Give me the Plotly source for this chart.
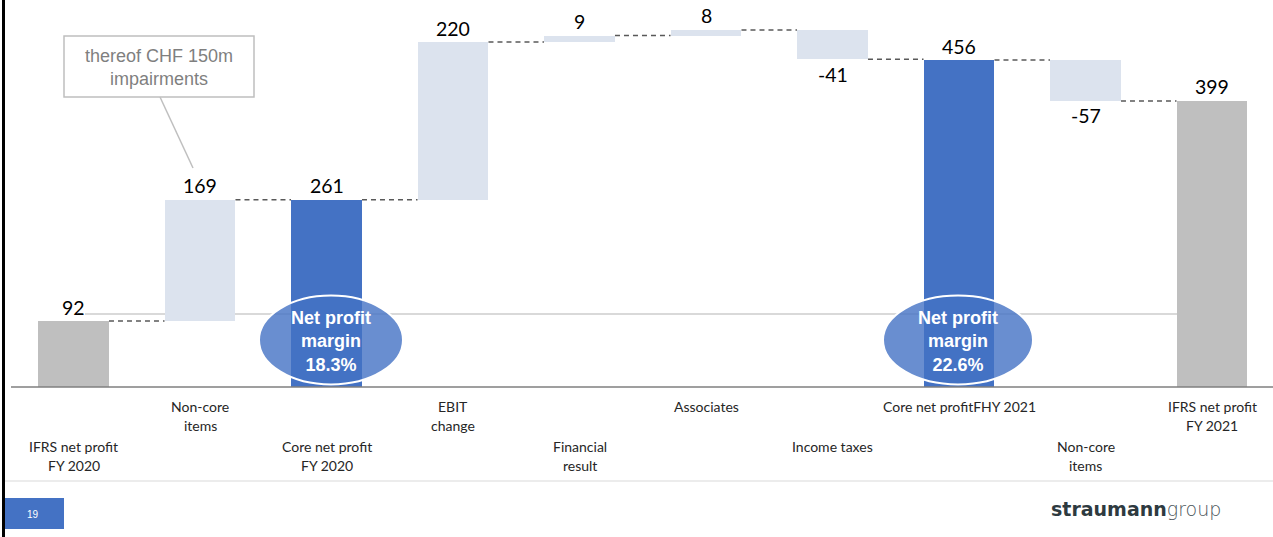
import plotly.graph_objects as go

# ---- data -------------------------------------------------------------
categories = [
    "IFRS net profit<br>FY 2020",
    "Non-core<br>items",
    "Core net profit<br>FY 2020",
    "EBIT<br>change",
    "Financial<br>result",
    "Associates",
    "Income taxes",
    "Core net profitFHY 2021",
    "Non-core<br>items",
    "IFRS net profit<br>FY 2021",
]
values = [92, 169, 261, 220, 9, 8, -41, 456, -57, 399]
measures = ["total", "relative", "total", "relative", "relative",
            "relative", "relative", "total", "relative", "total"]
bar_kind = ["ifrs", "step", "core", "step", "step",
            "step", "step", "core", "step", "ifrs"]
margin_labels = {2: "18.3%", 7: "22.6%"}
callout_text = "thereof CHF 150m<br>impairments"
page_number = "19"

# ---- page geometry helpers (pixel -> paper) ---------------------------
W, H = 1273, 537
AXIS_BOTTOM_PX = 387


def px(x):
    return x / W


def py(y):
    return 1 - y / H


colors = {"ifrs": "#BFBFBF", "step": "#DCE3EE", "core": "#4472C4"}

# ---- waterfall geometry -----------------------------------------------
bases, heights, ends = [], [], []
running = 0
for v, m in zip(values, measures):
    if m == "total":
        bases.append(0)
        heights.append(v)
        running = v
    else:
        bases.append(running)
        heights.append(v)
        running += v
    ends.append(running)

xs = list(range(len(values)))
BAR_W = 0.561

fig = go.Figure()
fig.add_trace(go.Bar(
    x=xs, y=heights, base=bases, width=BAR_W,
    marker=dict(color=[colors[k] for k in bar_kind], line=dict(width=0)),
    hoverinfo="skip", showlegend=False,
))

shapes = []
annotations = []

# dashed connectors between consecutive bars
for i in range(len(values) - 1):
    shapes.append(dict(
        type="line", xref="x", yref="y",
        x0=xs[i] + BAR_W / 2, x1=xs[i + 1] - BAR_W / 2,
        y0=ends[i], y1=ends[i],
        line=dict(color="#595959", width=1.5, dash="5px,4px"),
    ))

# value labels
for i, v in enumerate(values):
    top = max(bases[i], bases[i] + heights[i])
    bottom = min(bases[i], bases[i] + heights[i])
    if v < 0:
        yv, shift = bottom, -15
    else:
        yv, shift = top, 14
    annotations.append(dict(
        x=xs[i], y=yv, xref="x", yref="y", text=str(v), showarrow=False,
        yshift=shift, xanchor="center", yanchor="middle",
        font=dict(family="Lato", size=19.5, color="#000000"),
    ))

# staggered category labels below the axis
row_top = {1: 406, 2: 446}
rows = [2, 1, 2, 1, 2, 1, 2, 1, 2, 1]
for i, cat in enumerate(categories):
    for j, line in enumerate(cat.split("<br>")):
        annotations.append(dict(
            x=xs[i], xref="x", y=py(row_top[rows[i]] + 19 * j), yref="paper",
            text=line, showarrow=False, xanchor="center", yanchor="middle",
            font=dict(family="Lato", size=14, color="#262626"),
        ))

# light horizontal reference line (behind bars)
shapes.append(dict(
    type="line", xref="paper", yref="paper", layer="below",
    x0=px(85), x1=px(1177), y0=py(314), y1=py(314),
    line=dict(color="#D9D9D9", width=2),
))

# category axis line
shapes.append(dict(
    type="line", xref="paper", yref="paper",
    x0=px(11), x1=px(1273), y0=py(AXIS_BOTTOM_PX), y1=py(AXIS_BOTTOM_PX),
    line=dict(color="#7F7F7F", width=1.5),
))

# net profit margin ellipses
ellipse_geo = {2: (331, 340, 144, 89), 7: (958, 340, 150, 89)}
for i, txt in margin_labels.items():
    cx, cy, ew, eh = ellipse_geo[i]
    shapes.append(dict(
        type="circle", xref="paper", yref="paper",
        x0=px(cx - ew / 2), x1=px(cx + ew / 2),
        y0=py(cy + eh / 2), y1=py(cy - eh / 2),
        fillcolor="rgba(68,114,196,0.8)",
        line=dict(color="#FFFFFF", width=2),
    ))
    annotations.append(dict(
        x=px(cx), y=py(cy + 1), xref="paper", yref="paper",
        text="Net profit<br>margin<br>" + txt, showarrow=False,
        xanchor="center", yanchor="middle",
        font=dict(family="Arial, Liberation Sans", size=18, color="#FFFFFF",
                  weight="bold"),
    ))

# impairment callout
shapes.append(dict(
    type="rect", xref="paper", yref="paper",
    x0=px(64), x1=px(254), y0=py(97), y1=py(36),
    line=dict(color="#BFBFBF", width=1.5), fillcolor="#FFFFFF",
))
shapes.append(dict(
    type="line", xref="paper", yref="paper",
    x0=px(160), x1=px(193), y0=py(97), y1=py(168),
    line=dict(color="#BFBFBF", width=1.5),
))
annotations.append(dict(
    x=px(159), y=py(67.5), xref="paper", yref="paper", text=callout_text,
    showarrow=False, xanchor="center", yanchor="middle",
    font=dict(family="Arial, Liberation Sans", size=18, color="#7F7F7F"),
))

# page frame: left rule, footer separator, page number tab
shapes.append(dict(
    type="rect", xref="paper", yref="paper",
    x0=px(2), x1=px(5), y0=0, y1=1,
    fillcolor="#000000", line=dict(width=0),
))
shapes.append(dict(
    type="line", xref="paper", yref="paper",
    x0=px(5), x1=1, y0=py(481), y1=py(481),
    line=dict(color="#E6E6E6", width=1.5),
))
shapes.append(dict(
    type="rect", xref="paper", yref="paper",
    x0=px(5), x1=px(64), y0=py(529), y1=py(498),
    fillcolor="#4472C4", line=dict(width=0),
))
annotations.append(dict(
    x=px(33), y=py(514), xref="paper", yref="paper", text=page_number,
    showarrow=False, xanchor="center", yanchor="middle",
    font=dict(family="Arial, Liberation Sans", size=10, color="#FFFFFF"),
))

# company wordmark: heavy "straumann" followed directly by light "group"
wordmark = ('<span style="font-weight:900;color:#2E3A40">straumann</span>'
            '<span style="font-weight:200;color:#4A5459">group</span>')
annotations.append(dict(
    x=px(1136), y=py(509), xref="paper", yref="paper", text=wordmark,
    showarrow=False, xanchor="center", yanchor="middle",
    font=dict(family="DejaVu Sans", size=19, color="#2E3A40"),
))

x_left = -73.5 / 126.5
x_right = (W - 73.5) / 126.5
y_top = AXIS_BOTTOM_PX / (327 / 456)

fig.update_layout(
    width=W, height=H,
    margin=dict(l=0, r=0, t=0, b=0),
    paper_bgcolor="#FFFFFF", plot_bgcolor="#FFFFFF",
    xaxis=dict(range=[x_left, x_right], domain=[0, 1], visible=False,
               fixedrange=True),
    yaxis=dict(range=[0, y_top], domain=[1 - AXIS_BOTTOM_PX / H, 1],
               visible=False, fixedrange=True),
    bargap=0,
    shapes=shapes,
    annotations=annotations,
    showlegend=False,
)

fig.write_html("out.html", config={"displayModeBar": False})
